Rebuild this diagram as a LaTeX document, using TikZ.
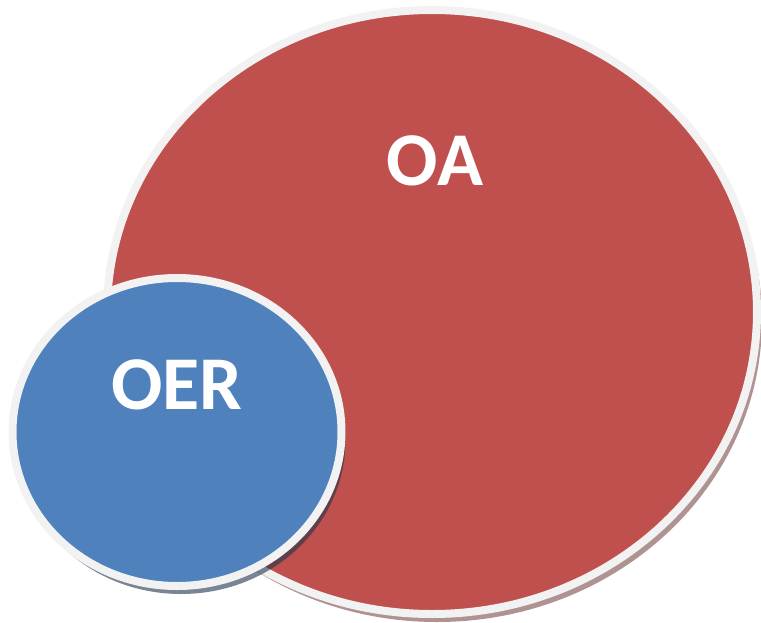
\documentclass[tikz,border=0pt]{standalone}
\usepackage{fontspec}
\setsansfont{Carlito}
\usepackage{xcolor}
\usetikzlibrary{positioning,calc,shapes.geometric,shadows}
\definecolor{oared}{HTML}{C0504D}
\definecolor{oerblue}{HTML}{4F81BD}
\definecolor{rimgray}{HTML}{F2F2F2}

\begin{document}
\begin{tikzpicture}[x=1pt, y=-1pt,
	blob/.style={ellipse, draw=rimgray, line width=8pt, inner sep=0pt},
	lbl/.style={font=\sffamily\bfseries\fontsize{76}{76}\selectfont, text=white, inner sep=0pt}]
	\useasboundingbox (0,0) rectangle (761,622);
	\node[blob, fill=oared, minimum width=650pt, minimum height=604pt,
		drop shadow={shadow xshift=5pt, shadow yshift=-8pt, fill=oared!50!black, opacity=0.5}] (OA) at (432,312) {};
	\node[blob, fill=oerblue, minimum width=329pt, minimum height=308pt,
		drop shadow={shadow xshift=4pt, shadow yshift=-8pt, fill=oerblue!40!black, opacity=0.6}] (OER) at (177,432) {};
	\node[lbl] (OAtext) at (435,161) {OA};
	\node[lbl] (OERtext) at (177,385) {OER};
\end{tikzpicture}
\end{document}
